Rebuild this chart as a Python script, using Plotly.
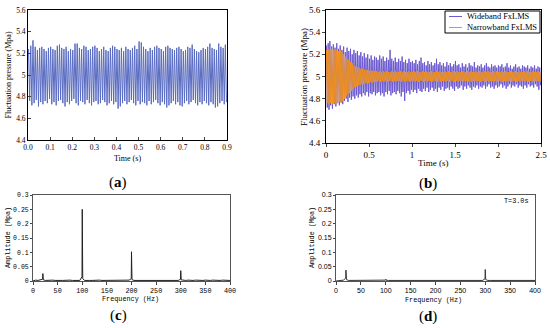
import plotly.graph_objects as go

# ---------------- DATA ----------------
# (a) pressure signal, one peak and one trough per 100 Hz cycle (0 - 0.9 s)
period_a = 0.01
peaks_a = [5.24,5.27,5.32,5.26,5.23,5.25,5.26,5.24,5.22,5.25,
           5.26,5.24,5.23,5.27,5.28,5.25,5.24,5.26,5.22,5.24,
           5.23,5.29,5.29,5.25,5.24,5.27,5.26,5.23,5.24,5.26,
           5.27,5.25,5.22,5.24,5.26,5.23,5.22,5.25,5.27,5.26,
           5.24,5.23,5.25,5.22,5.26,5.24,5.23,5.25,5.27,5.24,
           5.31,5.30,5.26,5.24,5.22,5.25,5.23,5.26,5.27,5.25,
           5.24,5.22,5.26,5.27,5.25,5.24,5.23,5.25,5.26,5.24,
           5.22,5.23,5.26,5.25,5.28,5.24,5.22,5.21,5.23,5.25,
           5.24,5.26,5.29,5.25,5.24,5.23,5.29,5.26,5.25,5.28]
troughs_a = [4.76,4.72,4.74,4.77,4.71,4.75,4.73,4.76,4.74,4.78,
             4.73,4.75,4.72,4.76,4.77,4.74,4.71,4.75,4.73,4.76,
             4.78,4.74,4.72,4.76,4.75,4.73,4.77,4.74,4.72,4.75,
             4.76,4.73,4.74,4.77,4.75,4.72,4.74,4.76,4.73,4.75,
             4.69,4.71,4.74,4.76,4.73,4.75,4.77,4.74,4.72,4.76,
             4.73,4.75,4.74,4.72,4.76,4.73,4.75,4.77,4.74,4.72,
             4.75,4.73,4.70,4.72,4.74,4.76,4.73,4.75,4.72,4.71,
             4.74,4.76,4.73,4.75,4.77,4.74,4.72,4.75,4.73,4.76,
             4.74,4.72,4.75,4.73,4.70,4.71,4.74,4.76,4.73,4.75]

# (b) controlled signals (0 - 2.5 s), peak/trough per sampled cycle
period_b = 0.02
wide_hi = [5.28,5.30,5.32,5.27,5.29,5.26,5.30,5.25,5.28,5.24,
           5.27,5.22,5.26,5.23,5.25,5.20,5.24,5.21,5.23,5.19,
           5.22,5.18,5.21,5.17,5.20,5.16,5.19,5.15,5.18,5.17,
           5.15,5.19,5.16,5.18,5.14,5.17,5.15,5.24,5.16,5.14,
           5.17,5.13,5.16,5.14,5.18,5.13,5.15,5.12,5.16,5.13,
           5.14,5.12,5.15,5.11,5.14,5.17,5.12,5.13,5.10,5.14,
           5.11,5.13,5.10,5.12,5.16,5.11,5.13,5.10,5.12,5.09,
           5.13,5.10,5.12,5.09,5.11,5.14,5.10,5.11,5.08,5.12,
           5.09,5.11,5.08,5.12,5.10,5.09,5.13,5.08,5.10,5.09,
           5.11,5.08,5.10,5.12,5.09,5.08,5.11,5.09,5.10,5.08,
           5.10,5.09,5.11,5.08,5.09,5.12,5.08,5.10,5.07,5.09,
           5.11,5.08,5.09,5.07,5.10,5.09,5.08,5.10,5.07,5.09,
           5.08,5.10,5.07,5.09,5.08]
wide_lo = [4.72,4.70,4.74,4.71,4.75,4.73,4.76,4.74,4.77,4.75,
           4.78,4.80,4.77,4.81,4.79,4.82,4.80,4.83,4.81,4.84,
           4.82,4.85,4.83,4.86,4.82,4.85,4.84,4.86,4.83,4.85,
           4.86,4.83,4.85,4.82,4.86,4.84,4.87,4.83,4.85,4.86,
           4.84,4.87,4.85,4.82,4.86,4.78,4.85,4.87,4.84,4.88,
           4.86,4.88,4.85,4.89,4.87,4.86,4.89,4.87,4.90,4.86,
           4.88,4.90,4.87,4.89,4.86,4.90,4.88,4.91,4.87,4.89,
           4.90,4.88,4.91,4.89,4.87,4.91,4.89,4.90,4.92,4.88,
           4.91,4.89,4.92,4.90,4.88,4.91,4.90,4.92,4.89,4.91,
           4.90,4.92,4.89,4.91,4.93,4.90,4.91,4.89,4.92,4.90,
           4.91,4.93,4.90,4.92,4.89,4.91,4.93,4.90,4.92,4.91,
           4.93,4.90,4.92,4.91,4.89,4.92,4.90,4.93,4.91,4.92,
           4.90,4.93,4.91,4.88,4.92]
narrow_hi = [5.24,5.25,5.24,5.25,5.24,5.25,5.24,5.23,5.24,5.22,
             5.20,5.18,5.16,5.15,5.13,5.12,5.10,5.09,5.08,5.08,
             5.07,5.07,5.06,5.06,5.06,5.05,5.06,5.05,5.05,5.05,
             5.04,5.05,5.04,5.05,5.04,5.05,5.04,5.04,5.05,5.04,
             5.05,5.04,5.04,5.05,5.04,5.05,5.04,5.04,5.05,5.04,
             5.04,5.05,5.04,5.05,5.04,5.04,5.05,5.04,5.05,5.04,
             5.04,5.05,5.04,5.04,5.05,5.04,5.05,5.04,5.04,5.05,
             5.04,5.05,5.04,5.04,5.05,5.04,5.05,5.04,5.04,5.05,
             5.04,5.04,5.05,5.04,5.05,5.04,5.04,5.05,5.04,5.05,
             5.04,5.04,5.05,5.04,5.05,5.04,5.04,5.05,5.04,5.05,
             5.04,5.04,5.05,5.04,5.05,5.04,5.04,5.05,5.04,5.04,
             5.05,5.04,5.05,5.04,5.04,5.05,5.04,5.05,5.04,5.04,
             5.05,5.04,5.04,5.05,5.04]
narrow_lo = [4.76,4.75,4.76,4.75,4.76,4.75,4.76,4.77,4.76,4.78,
             4.80,4.82,4.84,4.85,4.87,4.88,4.90,4.91,4.92,4.92,
             4.93,4.93,4.94,4.94,4.94,4.95,4.94,4.95,4.95,4.95,
             4.96,4.95,4.96,4.95,4.96,4.95,4.96,4.96,4.95,4.96,
             4.95,4.96,4.96,4.95,4.96,4.95,4.96,4.96,4.95,4.96,
             4.96,4.95,4.96,4.95,4.96,4.96,4.95,4.96,4.95,4.96,
             4.96,4.95,4.96,4.96,4.95,4.96,4.95,4.96,4.96,4.95,
             4.96,4.95,4.96,4.96,4.95,4.96,4.95,4.96,4.96,4.95,
             4.96,4.96,4.95,4.96,4.95,4.96,4.96,4.95,4.96,4.95,
             4.96,4.96,4.95,4.96,4.95,4.96,4.96,4.95,4.96,4.95,
             4.96,4.96,4.95,4.96,4.95,4.96,4.96,4.95,4.96,4.96,
             4.95,4.96,4.95,4.96,4.96,4.95,4.96,4.95,4.96,4.96,
             4.95,4.96,4.96,4.95,4.96]
series_names_b = ["Wideband FxLMS", "Narrowband FxLMS"]
series_colors_b = ["#6c5ad0", "#f0901e"]

# (c) / (d) amplitude spectra: noise floor every 5 Hz plus peak bins
floor_freq = list(range(0, 405, 5))
floor_c = [0.000,0.003,0.002,0.004,0.003,0.002,0.003,0.002,0.003,0.002,
           0.003,0.002,0.002,0.003,0.002,0.003,0.002,0.002,0.003,0.002,
           0.004,0.002,0.003,0.002,0.002,0.003,0.002,0.003,0.002,0.002,
           0.003,0.002,0.002,0.003,0.002,0.002,0.003,0.002,0.002,0.003,
           0.003,0.002,0.002,0.003,0.002,0.002,0.003,0.002,0.002,0.002,
           0.003,0.002,0.002,0.003,0.002,0.002,0.002,0.003,0.002,0.002,
           0.003,0.002,0.002,0.003,0.002,0.002,0.003,0.002,0.002,0.002,
           0.003,0.002,0.002,0.003,0.002,0.002,0.002,0.003,0.002,0.002,
           0.002]
peak_freq_c = [19.5,20,20.5,21, 99.5,100,100.5,101, 199.5,200,200.5,201, 299.5,300,300.5,301]
peak_amp_c  = [0.006,0.026,0.012,0.004, 0.015,0.25,0.125,0.008, 0.008,0.102,0.05,0.005, 0.006,0.036,0.018,0.004]
floor_d = [0.000,0.002,0.002,0.003,0.002,0.002,0.002,0.002,0.003,0.002,
           0.002,0.002,0.002,0.002,0.003,0.002,0.002,0.002,0.002,0.002,
           0.004,0.002,0.002,0.002,0.003,0.002,0.002,0.002,0.002,0.003,
           0.002,0.002,0.002,0.002,0.002,0.003,0.002,0.002,0.002,0.002,
           0.002,0.002,0.003,0.002,0.002,0.002,0.002,0.002,0.003,0.002,
           0.002,0.002,0.002,0.002,0.003,0.002,0.002,0.002,0.002,0.002,
           0.003,0.002,0.002,0.002,0.002,0.002,0.003,0.002,0.002,0.002,
           0.002,0.002,0.003,0.002,0.002,0.002,0.002,0.002,0.003,0.002,
           0.002]
peak_freq_d = [19.5,20,20.5,21, 99.5,100,100.5, 299.5,300,300.5,301]
peak_amp_d  = [0.010,0.038,0.020,0.005, 0.003,0.006,0.003, 0.008,0.040,0.020,0.005]

y_ticks_p = [4.4, 4.6, 4.8, 5.0, 5.2, 5.4, 5.6]
y_ticktext_p = ["4.4", "4.6", "4.8", "5", "5.2", "5.4", "5.6"]
x_ticks_a = [0.0, 0.1, 0.2, 0.3, 0.4, 0.5, 0.6, 0.7, 0.8, 0.9]
x_ticks_b = [0, 0.5, 1, 1.5, 2, 2.5]
x_ticktext_b = ["0", "0.5", "1", "1.5", "2", "2.5"]
y_ticks_s = [0, 0.05, 0.1, 0.15, 0.2, 0.25, 0.3]
y_ticktext_s = ["0", "0.05", "0.1", "0.15", "0.2", "0.25", "0.3"]
x_ticks_s = [0, 50, 100, 150, 200, 250, 300, 350, 400]


def zigzag(hi, lo, period):
    t, v = [], []
    for k, (h, l) in enumerate(zip(hi, lo)):
        t += [period * k + period * 0.25, period * k + period * 0.75]
        v += [h, l]
    return t, v


def spectrum(ff, fa, pf, pa):
    d = dict(zip(ff, fa))
    d.update(dict(zip(pf, pa)))
    keys = sorted(d)
    return keys, [d[k] for k in keys]


SERIF = "Liberation Serif"
MONO = "Liberation Mono"
SANS = "Liberation Sans"

fig = go.Figure()

ta, va = zigzag(peaks_a, troughs_a, period_a)
fig.add_trace(go.Scatter(x=ta, y=va, mode="lines", line=dict(color="#5a6cc2", width=1),
                         xaxis="x", yaxis="y", showlegend=False, hoverinfo="skip"))

tw, vw = zigzag(wide_hi, wide_lo, period_b)
fig.add_trace(go.Scatter(x=tw, y=vw, mode="lines", name=series_names_b[0],
                         line=dict(color=series_colors_b[0], width=1), xaxis="x2", yaxis="y2",
                         showlegend=False))
tn, vn = zigzag(narrow_hi, narrow_lo, period_b)
fig.add_trace(go.Scatter(x=tn, y=vn, mode="lines", name=series_names_b[1],
                         line=dict(color=series_colors_b[1], width=1), xaxis="x2", yaxis="y2",
                         showlegend=False))

fc, ac = spectrum(floor_freq, floor_c, peak_freq_c, peak_amp_c)
fig.add_trace(go.Scatter(x=fc, y=ac, mode="lines", line=dict(color="#222222", width=1),
                         xaxis="x3", yaxis="y3", showlegend=False))
fd, ad = spectrum(floor_freq, floor_d, peak_freq_d, peak_amp_d)
fig.add_trace(go.Scatter(x=fd, y=ad, mode="lines", line=dict(color="#333333", width=1),
                         xaxis="x4", yaxis="y4", showlegend=False))

W, H = 550, 328


def px(x):
    return x / W


def py(y):
    return 1 - y / H


common = dict(showgrid=False, zeroline=False, showline=True, linecolor="black",
              linewidth=1, mirror=True, automargin=False)
spec_common = dict(showgrid=False, zeroline=False, showline=True, linecolor="#555555",
                   linewidth=1, mirror=True, automargin=False)

fig.update_layout(
    template="none",
    width=W, height=H, margin=dict(l=0, r=0, t=0, b=0, pad=0),
    paper_bgcolor="white", plot_bgcolor="white", showlegend=False,
    xaxis=dict(domain=[px(28), px(227)], range=[0, 0.9], tickvals=x_ticks_a, tickformat=".1f",
               ticks="inside", ticklen=3, tickfont=dict(family=SERIF, size=7.5, color="black"),
               anchor="y", **common),
    yaxis=dict(domain=[py(140), py(10)], range=[4.4, 5.6], tickvals=y_ticks_p, ticktext=y_ticktext_p,
               ticks="inside", ticklen=3, tickfont=dict(family=SERIF, size=7.5, color="black"),
               anchor="x", **common),
    xaxis2=dict(domain=[px(326), px(541)], range=[0, 2.5], tickvals=x_ticks_b, ticktext=x_ticktext_b,
                ticks="outside", ticklen=3, tickfont=dict(family=SERIF, size=9, color="black"),
                anchor="y2", **common),
    yaxis2=dict(domain=[py(143), py(10)], range=[4.4, 5.6], tickvals=y_ticks_p, ticktext=y_ticktext_p,
                ticks="outside", ticklen=3, tickfont=dict(family=SERIF, size=9, color="black"),
                anchor="x2", **common),
    xaxis3=dict(domain=[px(33), px(230)], range=[0, 400], tickvals=x_ticks_s,
                ticks="outside", ticklen=3, tickfont=dict(family=MONO, size=6.8, color="black"),
                anchor="y3", **spec_common),
    yaxis3=dict(domain=[py(281), py(195)], range=[0, 0.3], tickvals=y_ticks_s, ticktext=y_ticktext_s,
                ticks="outside", ticklen=2, tickfont=dict(family=MONO, size=6.5, color="black"),
                anchor="x3", **spec_common),
    xaxis4=dict(domain=[px(336), px(535)], range=[0, 400], tickvals=x_ticks_s,
                ticks="outside", ticklen=3, tickfont=dict(family=SANS, size=7, color="black"),
                anchor="y4", **spec_common),
    yaxis4=dict(domain=[py(281), py(195)], range=[0, 0.3], tickvals=y_ticks_s, ticktext=y_ticktext_s,
                ticks="outside", ticklen=2, tickfont=dict(family=SANS, size=7, color="black"),
                anchor="x4", **spec_common),
)

# compact legend box for panel (b)
shapes = [dict(type="rect", xref="paper", yref="paper", x0=px(445), x1=px(540), y0=py(33), y1=py(11),
               line=dict(color="black", width=1), fillcolor="white", layer="above")]
ann = []
for i, (nm, col) in enumerate(zip(series_names_b, series_colors_b)):
    yy = 16.5 + 11 * i
    shapes.append(dict(type="line", xref="paper", yref="paper", x0=px(449), x1=px(462),
                       y0=py(yy), y1=py(yy), line=dict(color=col, width=1), layer="above"))
    ann.append(dict(text=nm, x=px(465), y=py(yy), xanchor="left",
                    font=dict(family=SERIF, size=8.4)))

ann += [
    dict(text="Fluctuation pressure (Mpa)", x=px(7.5), y=py(75), textangle=-90,
         font=dict(family=SERIF, size=8)),
    dict(text="Time (s)", x=px(127), y=py(158), font=dict(family=SERIF, size=8)),
    dict(text="Fluctuation pressure (Mpa)", x=px(304), y=py(77), textangle=-90,
         font=dict(family=SERIF, size=9)),
    dict(text="Time (s)", x=px(433), y=py(163), font=dict(family=SERIF, size=9)),
    dict(text="Amplitude (Mpa)", x=px(8), y=py(238), textangle=-90,
         font=dict(family=MONO, size=6.8)),
    dict(text="Frequency (Hz)", x=px(130), y=py(299), font=dict(family=MONO, size=6.8)),
    dict(text="Amplitude (Mpa)", x=px(312), y=py(238), textangle=-90,
         font=dict(family=MONO, size=6.8)),
    dict(text="Frequency (Hz)", x=px(433), y=py(300), font=dict(family=MONO, size=6.8)),
    dict(text="T=3.0s", x=px(516), y=py(201), font=dict(family=MONO, size=6.8)),
    dict(text="(<b>a</b>)", x=px(118), y=py(182), font=dict(family=SERIF, size=15)),
    dict(text="(<b>b</b>)", x=px(428), y=py(183), font=dict(family=SERIF, size=15)),
    dict(text="(<b>c</b>)", x=px(118), y=py(315), font=dict(family=SERIF, size=15)),
    dict(text="(<b>d</b>)", x=px(428), y=py(316), font=dict(family=SERIF, size=15)),
]
for a in ann:
    a.setdefault("showarrow", False)
    a.setdefault("xref", "paper")
    a.setdefault("yref", "paper")
    a.setdefault("xanchor", "center")
    a.setdefault("yanchor", "middle")
    a["font"].setdefault("color", "black")
fig.update_layout(annotations=ann, shapes=shapes)

fig.write_html("out.html", config={"displayModeBar": False},
               post_script="document.body.style.margin='0px';document.body.style.overflow='hidden';")
